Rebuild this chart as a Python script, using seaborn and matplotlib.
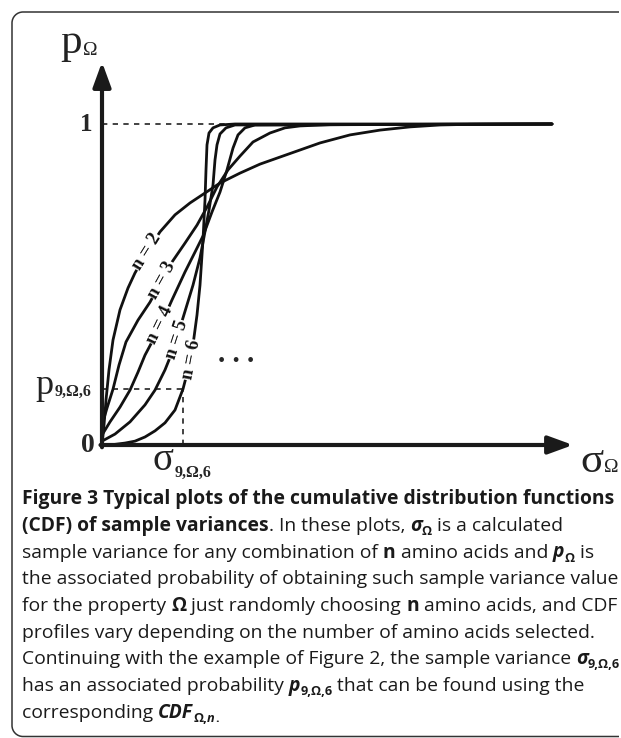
import numpy as np
import pandas as pd
import matplotlib
matplotlib.use("Agg")
import matplotlib.pyplot as plt
import seaborn as sns
from matplotlib.transforms import IdentityTransform
from matplotlib.patches import PathPatch
from matplotlib.path import Path

# ---------------- data ----------------
# sigma_Omega (arbitrary units) and p_Omega (CDF) for each n
sigma_n2 = [0.00, 0.02, 0.04, 0.07, 0.11, 0.18, 0.26, 0.33, 0.45, 0.58, 0.73, 0.88, 1.03, 1.18, 1.38,
            1.58, 1.78, 1.98, 2.18, 2.48, 2.78, 3.08, 3.38, 3.68, 4.50]
p_n2 = [0.000, 0.062, 0.140, 0.234, 0.327, 0.421, 0.489, 0.536, 0.601, 0.664, 0.717, 0.754, 0.785, 0.816, 0.847,
        0.875, 0.897, 0.919, 0.941, 0.966, 0.981, 0.991, 0.997, 0.999, 1.000]

sigma_n3 = [0.00, 0.05, 0.11, 0.17, 0.24, 0.36, 0.48, 0.60, 0.70, 0.83, 0.95, 1.05, 1.15, 1.26, 1.38,
            1.51, 1.68, 1.83, 1.98, 2.28, 4.50]
p_n3 = [0.062, 0.115, 0.174, 0.249, 0.321, 0.389, 0.445, 0.514, 0.570, 0.629, 0.685, 0.741, 0.804, 0.857, 0.900,
        0.944, 0.972, 0.988, 0.994, 0.998, 1.000]

sigma_n4 = [0.00, 0.08, 0.18, 0.28, 0.36, 0.43, 0.51, 0.61, 0.70, 0.83, 0.93, 1.01, 1.10, 1.18, 1.25,
            1.31, 1.36, 1.43, 1.53, 4.50]
p_n4 = [0.031, 0.072, 0.118, 0.171, 0.227, 0.280, 0.327, 0.389, 0.452, 0.539, 0.601, 0.651, 0.726, 0.788, 0.857,
        0.925, 0.966, 0.988, 0.997, 1.000]

sigma_n5 = [0.00, 0.13, 0.28, 0.43, 0.53, 0.63, 0.71, 0.81, 0.91, 0.98, 1.02, 1.07, 1.11, 1.13, 1.15,
            1.18, 1.24, 1.33, 4.50]
p_n5 = [0.012, 0.034, 0.072, 0.125, 0.171, 0.234, 0.296, 0.396, 0.498, 0.583, 0.648, 0.732, 0.810, 0.888, 0.935,
        0.969, 0.988, 0.997, 1.000]

sigma_n6 = [0.00, 0.13, 0.23, 0.33, 0.43, 0.53, 0.63, 0.73, 0.81, 0.86, 0.91, 0.95, 0.98, 1.01, 1.03,
            1.04, 1.05, 1.07, 1.11, 1.18, 1.33, 4.50]
p_n6 = [0.000, 0.002, 0.006, 0.012, 0.025, 0.044, 0.069, 0.109, 0.1745, 0.234, 0.312, 0.405, 0.498, 0.639, 0.763,
        0.857, 0.935, 0.972, 0.988, 0.997, 1.000, 1.000]

n_values = [2, 3, 4, 5, 6]
label_sigma = [0.45, 0.60, 0.58, 0.75, 0.89]
label_p = [0.601, 0.514, 0.374, 0.327, 0.265]
label_rot = [58, 61, 64, 72, 79]

sigma_9 = 0.81      # sigma_{9,Omega,6}
p_9 = 0.1745        # p_{9,Omega,6}

caption_lines = [
    [("Figure 3 Typical plots of the cumulative distribution functions", "B")],
    [("(CDF) of sample variances", "B"), (". In these plots, ", "R"), ("σ", "BI"), ("Ω", "S"),
     (" is a calculated", "R")],
    [("sample variance for any combination of ", "R"), ("n", "B"), (" amino acids and ", "R"),
     ("p", "BI"), ("Ω", "S"), (" is", "R")],
    [("the associated probability of obtaining such sample variance value", "R")],
    [("for the property ", "R"), ("Ω", "B"), (" just randomly choosing ", "R"), ("n", "B"),
     (" amino acids, and CDF", "R")],
    [("profiles vary depending on the number of amino acids selected.", "R")],
    [("Continuing with the example of Figure 2, the sample variance ", "R"), ("σ", "BI"), ("9,Ω,6", "S")],
    [("has an associated probability ", "R"), ("p", "BI"), ("9,Ω,6", "S"),
     (" that can be found using the", "R")],
    [("corresponding ", "R"), ("CDF", "BI"), ("Ω,", "S"), ("n", "SI"), (".", "S")],
]

# ---------------- figure ----------------
sns.set_theme(style="white")
plt.rcParams["font.family"] = ["Liberation Serif", "DejaVu Serif"]

W, H = 621, 738
fig = plt.figure(figsize=(W / 100, H / 100), dpi=100)
fig.patch.set_facecolor("white")
ax = fig.add_axes([0, 0, 1, 1])
ax.set_axis_off()
ax.set_xlim(-1.02, 5.19)
ax.set_ylim(-0.9128, 1.3863)

# frame: rounded box open to the right (pixel coordinates, y measured from the bottom)
r = 11
xl, yt, yb_ = 12, H - 12, H - 736.5
k = 0.5523 * r
verts = [(619, yt), (xl + r, yt),
         (xl + r - k, yt), (xl, yt - r + k), (xl, yt - r),
         (xl, yb_ + r),
         (xl, yb_ + r - k), (xl + r - k, yb_), (xl + r, yb_),
         (619, yb_)]
codes = [Path.MOVETO, Path.LINETO,
         Path.CURVE4, Path.CURVE4, Path.CURVE4,
         Path.LINETO,
         Path.CURVE4, Path.CURVE4, Path.CURVE4,
         Path.LINETO]
frame = PathPatch(Path(verts, codes), transform=IdentityTransform(), fc="none", ec="#333333", lw=1.1)
fig.patches.append(frame)

# curves
rows = []
for n, xs, ys in zip(n_values, [sigma_n2, sigma_n3, sigma_n4, sigma_n5, sigma_n6],
                     [p_n2, p_n3, p_n4, p_n5, p_n6]):
    for i, (xv, yv) in enumerate(zip(xs, ys)):
        rows.append({"sigma": xv, "p": yv, "n": n, "order": i})
df = pd.DataFrame(rows)
sns.lineplot(data=df, x="sigma", y="p", hue="n", palette=["#111111"] * 5, sort=False,
             estimator=None, legend=False, lw=2.0, ax=ax, zorder=3)

# dashed guide lines
dash = (0, (3.2, 3.2))
ax.plot([0, 2.1], [1, 1], ls=dash, color="#222222", lw=1.2, zorder=2)
ax.plot([0, sigma_9], [p_9, p_9], ls=dash, color="#222222", lw=1.2, zorder=2)
ax.plot([sigma_9, sigma_9], [0, p_9], ls=dash, color="#222222", lw=1.2, zorder=2)

# axes with arrows
arrow_style = "-|>,head_length=1.15,head_width=0.42"
ax.annotate("", xy=(0, 1.193), xytext=(0, -0.007),
            arrowprops=dict(arrowstyle=arrow_style, lw=3.0, color="k",
                            shrinkA=0, shrinkB=0, mutation_scale=13), zorder=5)
ax.annotate("", xy=(4.71, 0), xytext=(-0.015, 0),
            arrowprops=dict(arrowstyle=arrow_style, lw=3.0, color="k",
                            shrinkA=0, shrinkB=0, mutation_scale=13), zorder=5)

# curve labels
for n, lx, ly, rot in zip(n_values, label_sigma, label_p, label_rot):
    ax.text(lx, ly, f"n = {n}", rotation=rot, rotation_mode="anchor", ha="center", va="center",
            fontsize=13.5, fontweight="bold", color="#111111", zorder=6,
            bbox=dict(fc="white", ec="none", pad=0.4))

SER = ["Liberation Serif", "DejaVu Serif"]
# axis texts
ax.text(-0.42, 1.221, "p", fontsize=31, family=SER, ha="left", va="baseline", color="#222222")
ax.text(-0.19, 1.215, "Ω", fontsize=14, family=SER, ha="left", va="baseline", color="#222222")
ax.text(-0.09, 0.997, "1", fontsize=18, family=SER, fontweight="bold", ha="right", va="center")
ax.text(-0.07, -0.003, "0", fontsize=20, family=SER, fontweight="bold", ha="right", va="center")
ax.text(4.78, -0.084, "σ", fontsize=31, family=SER, ha="left", va="baseline", color="#222222")
ax.text(5.02, -0.084, "Ω", fontsize=14, family=SER, ha="left", va="baseline", color="#222222")
ax.text(-0.67, 0.159, "p", fontsize=26, family=SER, ha="left", va="baseline", color="#222222")
ax.text(-0.47, 0.153, "9,Ω,6", fontsize=11.5, family=SER, fontweight="bold", ha="left", va="baseline")
ax.text(0.51, -0.078, "σ", fontsize=28, family=SER, ha="left", va="baseline", color="#222222")
ax.text(0.73, -0.100, "9,Ω,6", fontsize=11.5, family=SER, fontweight="bold", ha="left", va="baseline")
ax.text(1.16, 0.259, ". . .", fontsize=21, family=SER, fontweight="bold", ha="left", va="baseline")

# ---------------- caption ----------------
CF = ["Open Sans", "DejaVu Sans"]
CS = 13.85
styles = {
    "R": dict(size=CS, weight="normal", style="normal", dy=0),
    "B": dict(size=CS, weight="bold", style="normal", dy=0),
    "BI": dict(size=CS, weight="bold", style="italic", dy=0),
    "S": dict(size=CS * 0.66, weight="bold", style="normal", dy=4),
    "SI": dict(size=CS * 0.66, weight="bold", style="italic", dy=4),
}
renderer = fig.canvas.get_renderer()


def text_width(s, st):
    t1 = fig.text(0, 0, "|" + s + "|", family=CF, size=st["size"], weight=st["weight"],
                  style=st["style"], transform=IdentityTransform())
    t2 = fig.text(0, 0, "||", family=CF, size=st["size"], weight=st["weight"],
                  style=st["style"], transform=IdentityTransform())
    w = t1.get_window_extent(renderer).width - t2.get_window_extent(renderer).width
    t1.remove()
    t2.remove()
    return w


y0 = 504
for i, line in enumerate(caption_lines):
    x = 22
    yb = y0 + i * 26.75
    for s, key in line:
        st = styles[key]
        fig.text(x, H - (yb + st["dy"]), s, family=CF, size=st["size"], weight=st["weight"],
                 style=st["style"], color="#1a1a1a", ha="left", va="baseline",
                 transform=IdentityTransform())
        x += text_width(s, st)

fig.savefig("out.png", dpi=100, facecolor="white")
